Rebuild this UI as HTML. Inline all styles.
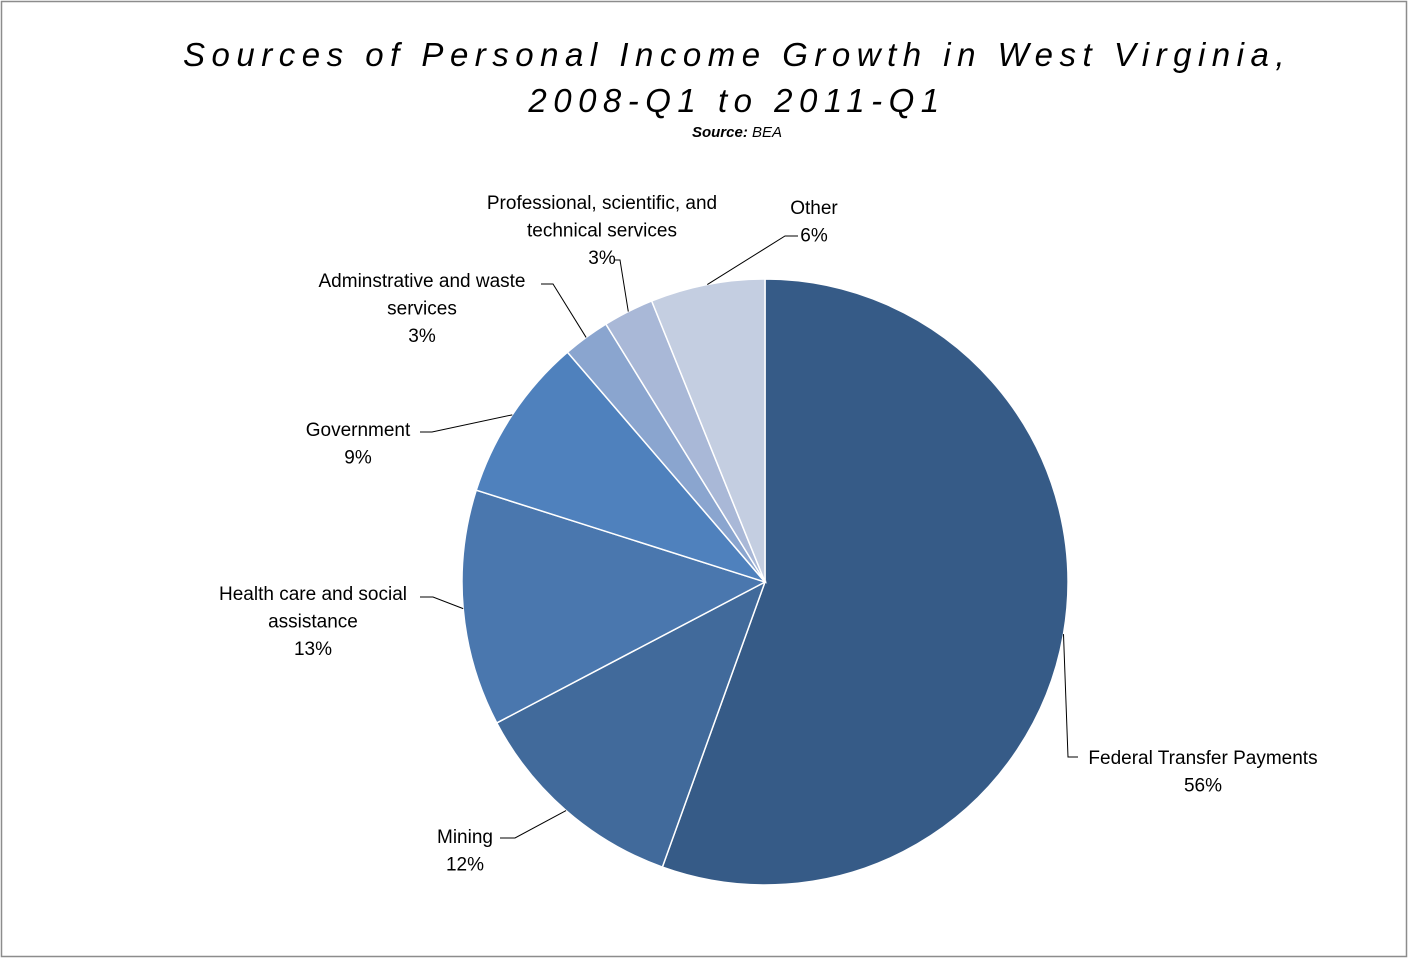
<!DOCTYPE html>
<html><head><meta charset="utf-8"><style>
html,body{margin:0;padding:0;background:#fff;}
svg{display:block;font-family:"Liberation Sans",sans-serif;}
</style></head><body>
<svg id="chart" width="1409" height="959" viewBox="0 0 1409 959">
<rect x="1.5" y="1.5" width="1405" height="955" fill="#fff" stroke="#8c8c8c" stroke-width="1.5"/>
<text x="737" y="66" text-anchor="middle" font-size="33" font-style="italic" letter-spacing="6.5" fill="#000">Sources of Personal Income Growth in West Virginia,</text>
<text x="737" y="112" text-anchor="middle" font-size="33" font-style="italic" letter-spacing="6.5" fill="#000">2008-Q1 to 2011-Q1</text>
<text x="737" y="137" text-anchor="middle" font-size="15" font-style="italic" fill="#000"><tspan font-weight="bold">Source:</tspan> BEA</text>
<g id="slices"></g>
<g id="labels"></g>
</svg>
<script>
const categories = ["Federal Transfer Payments","Mining","Health care and social assistance","Government","Adminstrative and waste services","Professional, scientific, and technical services","Other"];
const values = [55.5, 11.8, 12.6, 8.8, 2.5, 2.7, 6.1];
const colors = ["#365b87","#416a9b","#4a77ae","#4f81bd","#8aa5cf","#a9b8d7","#c4cee1"];
// label layout (positions only)
const layout = [
 {lines:["Federal Transfer Payments"], cx:1203, y:764, elbow:[1068,757], end:[1078,757]},
 {lines:["Mining"], cx:465, y:843, elbow:[515,838], end:[500,838]},
 {lines:["Health care and social","assistance"], cx:313, y:600, elbow:[433,597], end:[420,597]},
 {lines:["Government"], cx:358, y:436, elbow:[432,432], end:[420,432]},
 {lines:["Adminstrative and waste","services"], cx:422, y:287, elbow:[553,284], end:[541,284]},
 {lines:["Professional, scientific, and","technical services"], cx:602, y:209, elbow:[620,260], end:[614,260]},
 {lines:["Other"], cx:814, y:214, elbow:[785,236], end:[798,236]}
];
const CX=765, CY=582, R=303;
const ns="http://www.w3.org/2000/svg";
const total = values.reduce((a,b)=>a+b,0);
function pt(frac,r){const a=frac*2*Math.PI;return [CX+r*Math.sin(a), CY-r*Math.cos(a)];}
const gS=document.getElementById('slices'), gL=document.getElementById('labels');
let cum=0;
values.forEach((v,i)=>{
  const f0=cum/total, f1=(cum+v)/total; cum+=v;
  const p0=pt(f0,R), p1=pt(f1,R);
  const large=(f1-f0)>0.5?1:0;
  const path=document.createElementNS(ns,'path');
  path.setAttribute('d',`M${CX},${CY} L${p0[0]},${p0[1]} A${R},${R} 0 ${large} 1 ${p1[0]},${p1[1]} Z`);
  path.setAttribute('fill',colors[i]);
  path.setAttribute('stroke','#fff');
  path.setAttribute('stroke-width','1.5');
  
  
  gS.appendChild(path);
  const L=layout[i];
  const e=pt((f0+f1)/2,R);
  const line=document.createElementNS(ns,'polyline');
  line.setAttribute('points',`${e[0]},${e[1]} ${L.elbow[0]},${L.elbow[1]} ${L.end[0]},${L.end[1]}`);
  line.setAttribute('fill','none');
  line.setAttribute('stroke','#000');
  line.setAttribute('stroke-width','1');
  
  
  gL.appendChild(line);
  const t=document.createElementNS(ns,'text');
  t.setAttribute('text-anchor','middle');
  t.setAttribute('font-size','19');
  t.setAttribute('fill','#000');
  
  
  const lines=L.lines.concat([Math.round(v/total*100)+'%']);
  lines.forEach((s,k)=>{
    const ts=document.createElementNS(ns,'tspan');
    ts.setAttribute('x',L.cx);
    ts.setAttribute('y',L.y+k*27.5);
    ts.textContent=s;
    t.appendChild(ts);
  });
  gL.appendChild(t);
});
</script>
</body></html>
